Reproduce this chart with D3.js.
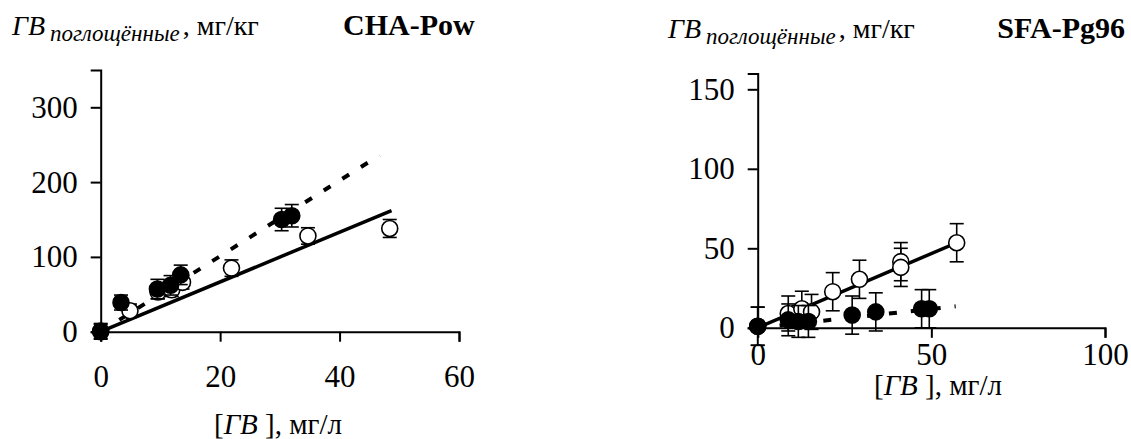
<!DOCTYPE html>
<html>
<head>
<meta charset="utf-8">
<script src="https://cdn.jsdelivr.net/npm/d3@7"></script>
<style>
  body { margin: 0; background: #fff; }
  svg text { font-family: "Liberation Serif", "Times New Roman", serif !important; fill: #000; }
</style>
</head>
<body>
<svg width="1131" height="439"></svg>
<script>
// CHA-Pow: open circles (solid fit) and filled circles (dashed fit)
const chaOpenX = [0, 4.9, 9.6, 11.9, 13.7, 21.9, 34.7, 48.4];
const chaOpenY = [0, 28, 53, 56, 66, 85, 128, 138];
const chaOpenErr = [10, 9, 9, 9, 9, 11, 11, 12];
const chaFilledX = [0, 3.4, 9.5, 11.7, 13.4, 30.3, 32];
const chaFilledY = [1, 39, 57, 62, 76, 150, 155];
const chaFilledErr = [10, 10, 13, 13, 13, 15, 15];
const chaFitOpenX = [0, 48.7];
const chaFitOpenY = [0, 162];
const chaFitFilledX = [0, 46.7];
const chaFitFilledY = [0, 236];
const chaXTicks = [0, 20, 40, 60];
const chaYTicks = [0, 100, 200, 300];

// SFA-Pg96
const sfaOpenX = [0, 8.8, 12.7, 15.5, 21.6, 29.3, 41.2, 41.2, 57.3];
const sfaOpenY = [1, 9, 12, 10, 22.7, 30.5, 41.6, 38, 53.5];
const sfaOpenErr = [12, 11, 11, 11, 12, 12, 12, 12, 12];
const sfaFilledX = [0, 8.8, 11.7, 14.6, 27.2, 34, 47.2, 49.4];
const sfaFilledY = [1, 5, 4, 4, 8, 10, 12, 12];
const sfaFilledErr = [12, 10, 10, 10, 12, 12, 12, 12];
const sfaFitOpenX = [0, 57.3];
const sfaFitOpenY = [0, 53.5];
const sfaFitFilledX = [0, 57];
const sfaFitFilledY = [0, 13.5];
const sfaXTicks = [0, 50, 100];
const sfaYTicks = [0, 50, 100, 150];

const svg = d3.select('svg');
const serif = '"Liberation Serif", "Times New Roman", serif';

const zip = (xs, ys, es) => xs.map((x, i) => ({ x, y: ys[i], e: es ? es[i] : 0 }));

const drawPanel = p => {
    const xScale = d3.scaleLinear().domain(p.xDomain).range(p.xRange);
    const yScale = d3.scaleLinear().domain(p.yDomain).range(p.yRange);
    const g = svg.append('g');

    const yAxis = d3.axisLeft(yScale).tickValues(p.yTicks).tickSize(10).tickPadding(13);
    const xAxis = d3.axisBottom(xScale).tickValues(p.xTicks).tickSize(10).tickPadding(p.xPad);

    const yG = g.append('g').attr('transform', `translate(${p.xRange[0]},0)`).call(yAxis);
    const xG = g.append('g').attr('transform', `translate(0,${p.yRange[0]})`).call(xAxis);
    [yG, xG].forEach(a => {
        a.attr('font-family', serif).attr('font-size', 31);
        a.select('.domain').attr('stroke-width', 2);
        a.selectAll('.tick line').attr('stroke-width', 2);
        a.selectAll('.tick text').style('font-family', serif).style('font-size', '31px');
    });

    const line = d3.line().x(d => xScale(d.x)).y(d => yScale(d.y));
    g.append('path').datum(zip(p.fitOpenX, p.fitOpenY))
        .attr('d', line).attr('fill', 'none').attr('stroke', '#000').attr('stroke-width', 3.5);
    g.append('path').datum(zip(p.fitFilledX, p.fitFilledY))
        .attr('d', line).attr('fill', 'none').attr('stroke', '#000').attr('stroke-width', 4)
        .attr('stroke-dasharray', '8,14');

    const drawSeries = (data, fill) => {
        const s = g.append('g');
        const eb = s.selectAll('g.eb').data(data).enter().append('g')
            .attr('stroke', '#000').attr('stroke-width', 1.6);
        eb.append('line')
            .attr('x1', d => xScale(d.x)).attr('x2', d => xScale(d.x))
            .attr('y1', d => yScale(d.y - d.e)).attr('y2', d => yScale(d.y + d.e));
        [-1, 1].forEach(sign => {
            eb.append('line')
                .attr('x1', d => xScale(d.x) - 7).attr('x2', d => xScale(d.x) + 7)
                .attr('y1', d => yScale(d.y + sign * d.e)).attr('y2', d => yScale(d.y + sign * d.e));
        });
        s.selectAll('circle').data(data).enter().append('circle')
            .attr('cx', d => xScale(d.x)).attr('cy', d => yScale(d.y))
            .attr('r', 8).attr('fill', fill).attr('stroke', '#000').attr('stroke-width', 1.6);
    };
    drawSeries(zip(p.openX, p.openY, p.openErr), '#fff');
    drawSeries(zip(p.filledX, p.filledY, p.filledErr), '#000');

    // y title
    const yt = g.append('text').attr('x', p.yTitleX).attr('y', p.yTitleY)
        .style('font-family', serif).style('font-size', '28px');
    yt.append('tspan').style('font-style', 'italic').text('ГВ');
    yt.append('tspan').style('font-style', 'italic').style('font-size', '23px').attr('dx', 5).attr('dy', 6).text('поглощённые');
    yt.append('tspan').attr('dy', -6).attr('dx', 3).text(', мг/кг');

    g.append('text').attr('x', p.titleX).attr('y', p.titleY)
        .attr('text-anchor', p.titleAnchor)
        .style('font-family', serif)
        .style('font-size', '30px').style('font-weight', 'bold').text(p.title);

    // x title
    const xt = g.append('text').attr('x', p.xTitleX).attr('y', p.xTitleY)
        .attr('text-anchor', 'middle').style('font-family', serif).style('font-size', '29px');
    xt.append('tspan').text('[');
    xt.append('tspan').style('font-style', 'italic').text('ГВ');
    xt.append('tspan').text(' ], мг/л');
};

drawPanel({
    xDomain: [0, 60], xRange: [100.7, 459],
    yDomain: [0, 350], yRange: [331.7, 69.9],
    xTicks: chaXTicks, yTicks: chaYTicks, xPad: 23,
    openX: chaOpenX, openY: chaOpenY, openErr: chaOpenErr,
    filledX: chaFilledX, filledY: chaFilledY, filledErr: chaFilledErr,
    fitOpenX: chaFitOpenX, fitOpenY: chaFitOpenY,
    fitFilledX: chaFitFilledX, fitFilledY: chaFitFilledY,
    yTitleX: 12, yTitleY: 35,
    title: 'CHA-Pow', titleX: 343, titleY: 35, titleAnchor: 'start',
    xTitleX: 278, xTitleY: 434
});

drawPanel({
    xDomain: [0, 100], xRange: [757.7, 1105],
    yDomain: [0, 160], yRange: [327.8, 73.4],
    xTicks: sfaXTicks, yTicks: sfaYTicks, xPad: 5,
    openX: sfaOpenX, openY: sfaOpenY, openErr: sfaOpenErr,
    filledX: sfaFilledX, filledY: sfaFilledY, filledErr: sfaFilledErr,
    fitOpenX: sfaFitOpenX, fitOpenY: sfaFitOpenY,
    fitFilledX: sfaFitFilledX, fitFilledY: sfaFitFilledY,
    yTitleX: 668, yTitleY: 38,
    title: 'SFA-Pg96', titleX: 1125, titleY: 38, titleAnchor: 'end',
    xTitleX: 938, xTitleY: 395
});
</script>
</body>
</html>
